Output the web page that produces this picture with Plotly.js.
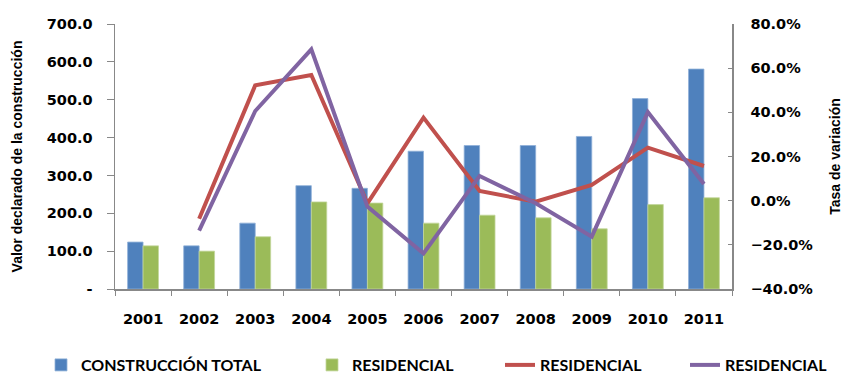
<!DOCTYPE html>
<html>
<head>
<meta charset="utf-8">
<script src="https://cdn.plot.ly/plotly-3.0.1.min.js"></script>
<style>html,body{margin:0;padding:0;background:#fff}#chart{width:843px;height:374px}</style>
</head>
<body>
<div id="chart"></div>
<script>
const years = ['2001','2002','2003','2004','2005','2006','2007','2008','2009','2010','2011'];
const construccionTotal = [124, 114, 174, 273, 266, 364, 379, 379, 403, 503, 581];
const residencial = [114, 100, 138, 230, 227, 174, 195, 188, 159, 223, 241];
const tasaResidencialA = [null, -0.082, 0.522, 0.569, -0.012, 0.376, 0.044, -0.005, 0.071, 0.240, 0.157];
const tasaResidencialB = [null, -0.136, 0.406, 0.685, -0.027, -0.239, 0.112, -0.012, -0.163, 0.401, 0.075];
const leftTickVals = [0, 100, 200, 300, 400, 500, 600, 700];
const leftTickText = ['-', '100.0', '200.0', '300.0', '400.0', '500.0', '600.0', '700.0'];
const seriesNames = ['CONSTRUCCIÓN TOTAL', 'RESIDENCIAL', 'RESIDENCIAL', 'RESIDENCIAL'];

const tickFont = {family: 'DejaVu Sans', size: 14.5, color: '#000', weight: 'bold'};
const titleFont = {family: 'Liberation Sans', size: 14, color: '#000', weight: 'bold'};
const legFont = {family: 'Lato', size: 16, color: '#000', weight: 'bold'};

function leg(xpx) {
  return {orientation: 'h', xref: 'container', yref: 'container', x: xpx / 843, xanchor: 'left',
    y: 9 / 374, yanchor: 'middle', font: legFont, itemwidth: 30, bgcolor: 'rgba(0,0,0,0)'};
}

const data = [
  {type: 'bar', x: years, y: construccionTotal, name: seriesNames[0], legend: 'legend', marker: {color: '#4F81BD', line: {color: '#8fb0d8', width: 0.8}}, yaxis: 'y'},
  {type: 'bar', x: years, y: residencial, name: seriesNames[1], legend: 'legend2', marker: {color: '#9BBB59', line: {color: '#c3d79c', width: 0.8}}, yaxis: 'y'},
  {type: 'scatter', mode: 'lines', x: years, y: tasaResidencialA, name: seriesNames[2], legend: 'legend3', line: {color: '#C0504D', width: 4}, yaxis: 'y2'},
  {type: 'scatter', mode: 'lines', x: years, y: tasaResidencialB, name: seriesNames[3], legend: 'legend4', line: {color: '#8064A2', width: 4}, yaxis: 'y2'}
];

const layout = {
  width: 843, height: 374,
  margin: {l: 115, r: 111, t: 24, b: 85, autoexpand: false},
  paper_bgcolor: '#fff', plot_bgcolor: '#fff',
  barmode: 'group', bargap: 0.45, bargroupgap: 0,
  showlegend: true,
  legend: leg(41),
  legend2: leg(312),
  legend3: leg(500),
  legend4: leg(685),
  xaxis: {
    type: 'category', tickson: 'boundaries', ticks: 'outside', ticklen: 5, tickcolor: '#888',
    showline: true, linecolor: '#888', linewidth: 1.5, showgrid: false, zeroline: false,
    tickfont: tickFont, ticklabelstandoff: 16, automargin: false
  },
  yaxis: {
    range: [0, 700], tickvals: leftTickVals, ticktext: leftTickText,
    ticks: 'outside', ticklen: 7, tickcolor: '#888',
    showline: true, linecolor: '#888', linewidth: 1.5, showgrid: false, zeroline: false,
    tickfont: tickFont, ticklabelstandoff: 11, automargin: false,
    title: {text: 'Valor declarado de la construcción', font: titleFont, standoff: 21}
  },
  yaxis2: {
    overlaying: 'y', side: 'right', range: [-0.4, 0.8], dtick: 0.2, tick0: -0.4,
    tickformat: '.1%', ticks: 'inside', ticklen: 4, tickcolor: '#888',
    showline: true, linecolor: '#888', linewidth: 1.5, showgrid: false, zeroline: false,
    tickfont: tickFont, ticklabelstandoff: 14, automargin: false,
    title: {text: 'Tasa de variación', font: titleFont, standoff: 22}
  }
};

Plotly.newPlot('chart', data, layout, {displayModeBar: false, staticPlot: true});
</script>
</body>
</html>
